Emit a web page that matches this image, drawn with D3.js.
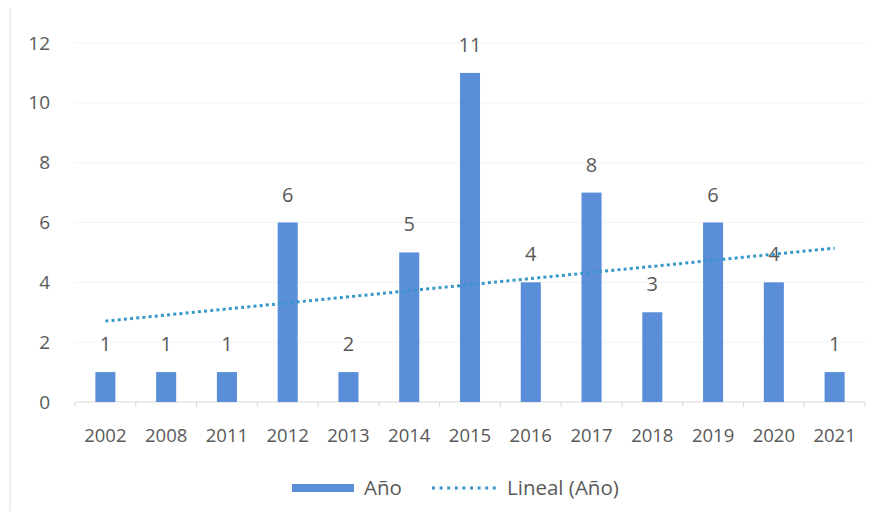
<!DOCTYPE html>
<html>
<head>
<meta charset="utf-8">
<script src="https://cdn.jsdelivr.net/npm/d3@7"></script>
<style>
  body { margin: 0; background: #fff; }
  text { font-family: "Open Sans", "Noto Sans", sans-serif; fill: #595959; }
</style>
</head>
<body>
<div id="chart"></div>
<script>
// data
const years = ["2002","2008","2011","2012","2013","2014","2015","2016","2017","2018","2019","2020","2021"];
const barValues = [1, 1, 1, 6, 1, 5, 11, 4, 7, 3, 6, 4, 1];
const labelValues = [1, 1, 1, 6, 2, 5, 11, 4, 8, 3, 6, 4, 1];
const yTicks = [0, 2, 4, 6, 8, 10, 12];

const W = 882, H = 519;
const margin = { top: 43, right: 17, bottom: 117, left: 75 };
const width = W - margin.left - margin.right,
      height = H - margin.top - margin.bottom;

const svg = d3.select("#chart")
  .append("svg")
    .attr("width", W)
    .attr("height", H);

// chart frame edge on the left
svg.append("line")
  .attr("x1", 10).attr("x2", 10)
  .attr("y1", 8).attr("y2", H - 8)
  .attr("stroke", "#dcdcdc");

const g = svg.append("g")
  .attr("transform", "translate(" + margin.left + "," + margin.top + ")");

let x = d3.scaleBand()
  .domain(years)
  .range([0, width])
  .paddingInner(0.67)
  .paddingOuter(0.335);

let y = d3.scaleLinear()
  .domain([0, 12])
  .range([height, 0]);

// gridlines (very faint in the original)
g.selectAll(".grid")
  .data(yTicks.slice(1))
  .enter()
  .append("line")
    .attr("x1", 0).attr("x2", width)
    .attr("y1", d => y(d)).attr("y2", d => y(d))
    .attr("stroke", "#f3f3f3");

// y axis labels
g.append("g")
  .call(d3.axisLeft(y).tickValues(yTicks).tickSize(0).tickPadding(25))
  .call(a => a.select(".domain").remove())
  .selectAll("text")
    .style("font-size", "19px")
    .attr("fill", "#595959");

// x axis
let xStep = x.step();
g.append("line")
  .attr("x1", 0).attr("x2", width)
  .attr("y1", height).attr("y2", height)
  .attr("stroke", "#d9d9d9");

g.selectAll(".xtick")
  .data(d3.range(years.length + 1))
  .enter()
  .append("line")
    .attr("x1", i => i * xStep).attr("x2", i => i * xStep)
    .attr("y1", height).attr("y2", height + 5)
    .attr("stroke", "#d9d9d9");

g.selectAll(".xlabel")
  .data(years)
  .enter()
  .append("text")
    .attr("x", d => x(d) + x.bandwidth() / 2)
    .attr("y", height + 40)
    .attr("text-anchor", "middle")
    .style("font-size", "18.5px")
    .text(d => d);

// bars
g.selectAll(".bar")
  .data(years)
  .enter()
  .append("rect")
    .attr("x", d => x(d))
    .attr("y", (d, i) => y(barValues[i]))
    .attr("width", x.bandwidth())
    .attr("height", (d, i) => height - y(barValues[i]))
    .attr("fill", "#5b8ed8");

// data labels
g.selectAll(".label")
  .data(years)
  .enter()
  .append("text")
    .attr("x", d => x(d) + x.bandwidth() / 2)
    .attr("y", (d, i) => y(barValues[i]) - 21)
    .attr("text-anchor", "middle")
    .style("font-size", "20px")
    .attr("fill", "#404040")
    .text((d, i) => labelValues[i]);

// linear trendline (least squares on bar values)
const n = barValues.length;
const xm = d3.mean(d3.range(n)), ym = d3.mean(barValues);
const slope = d3.sum(barValues, (v, i) => (i - xm) * (v - ym)) / d3.sum(d3.range(n), i => (i - xm) * (i - xm));
const icpt = ym - slope * xm;
const trend = d3.range(n).map(i => [x(years[i]) + x.bandwidth() / 2, y(icpt + slope * i)]);

g.append("path")
  .datum([trend[0], trend[n - 1]])
  .attr("d", d3.line())
  .attr("fill", "none")
  .attr("stroke", "#3798c8")
  .attr("stroke-width", 3)
  .attr("stroke-dasharray", "3 3.2");

// legend
const lg = svg.append("g").attr("transform", "translate(0,488)");
lg.append("rect")
  .attr("x", 292).attr("y", -4)
  .attr("width", 62).attr("height", 8)
  .attr("fill", "#5b8ed8");
lg.append("text")
  .attr("x", 364).attr("y", 7)
  .style("font-size", "20.5px")
  .text("Año");
lg.append("line")
  .attr("x1", 432).attr("x2", 500)
  .attr("y1", 0).attr("y2", 0)
  .attr("stroke", "#3798c8")
  .attr("stroke-width", 3)
  .attr("stroke-dasharray", "3 4.6");
lg.append("text")
  .attr("x", 507).attr("y", 7)
  .style("font-size", "20.5px")
  .text("Lineal (Año)");
</script>
</body>
</html>
